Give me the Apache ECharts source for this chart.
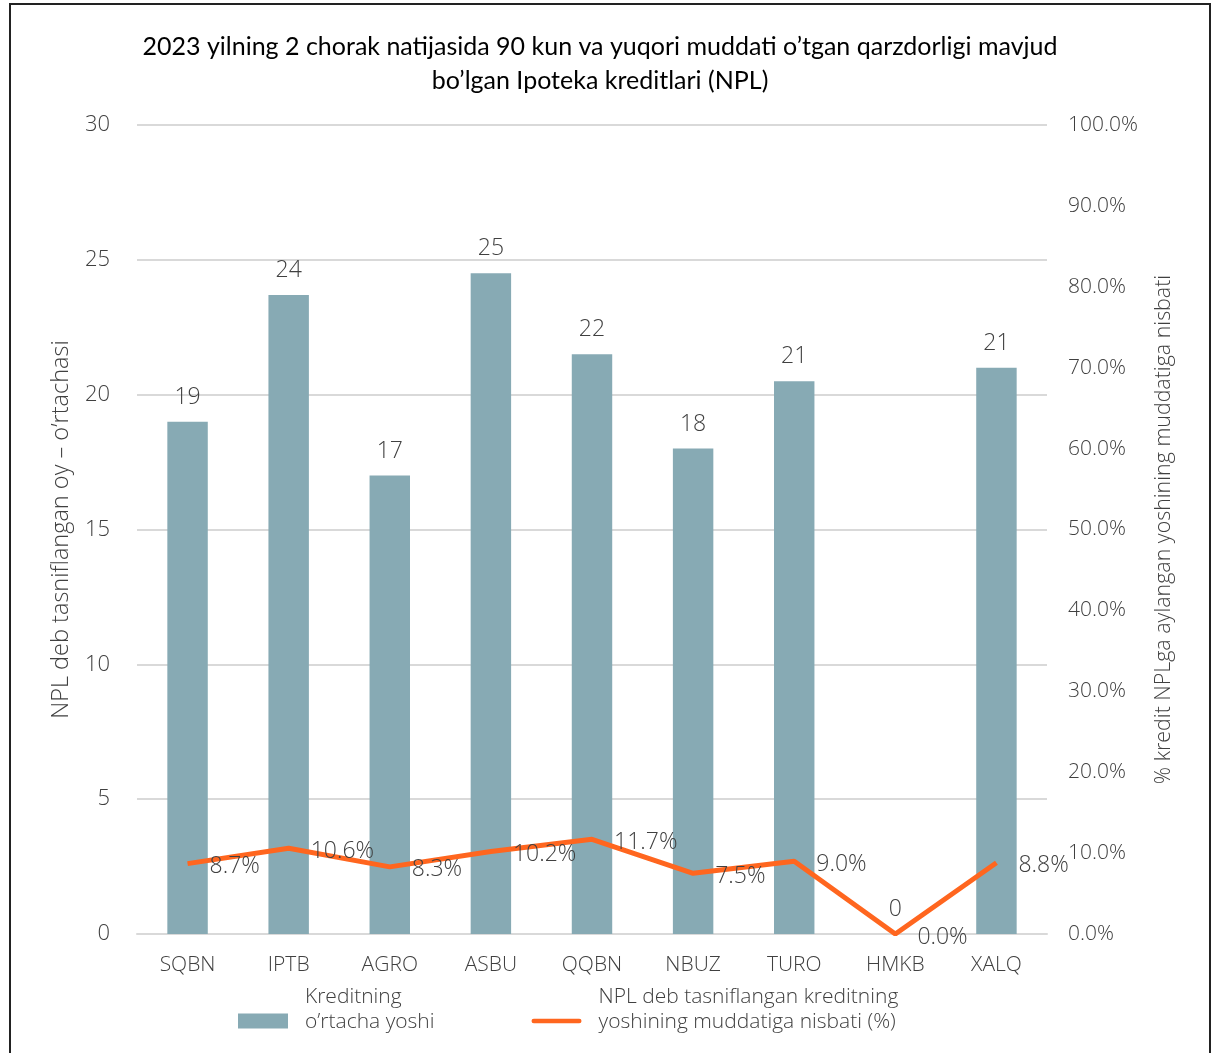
<!DOCTYPE html>
<html>
<head>
<meta charset="utf-8">
<script src="https://cdn.jsdelivr.net/npm/echarts@6/dist/echarts.min.js"></script>
<style>
html,body{margin:0;padding:0;background:#fff;}
#frame{position:absolute;left:9px;top:3px;width:1202px;height:1060px;border:2px solid #222;box-sizing:border-box;}
#chart{position:absolute;left:0;top:0;width:1217px;height:1053px;}
</style>
</head>
<body>
<div id="chart"></div>
<div id="frame"></div>
<script>
const categories = ['SQBN','IPTB','AGRO','ASBU','QQBN','NBUZ','TURO','HMKB','XALQ'];
const avgAge = [19.0, 23.7, 17.0, 24.5, 21.5, 18.0, 20.5, 0, 21.0];
const nplRatio = [8.7, 10.6, 8.3, 10.2, 11.7, 7.5, 9.0, 0.0, 8.8];
const leftTicks = {min: 0, max: 30, interval: 5};
const rightTicks = {min: 0, max: 100, interval: 10};
const titleText = '2023 yilning 2 chorak natijasida 90 kun va yuqori muddati o’tgan qarzdorligi mavjud\nbo’lgan Ipoteka kreditlari (NPL)';
const barName = 'Kreditning\no’rtacha yoshi';
const lineName = 'NPL deb tasniflangan kreditning\nyoshining muddatiga nisbati (%)';
const leftAxisName = 'NPL deb tasniflangan oy – o’rtachasi';
const rightAxisName = '% kredit NPLga aylangan yoshining muddatiga nisbati';

const FONT = '"Open Sans", "Noto Sans", sans-serif';
const chart = echarts.init(document.getElementById('chart'), null, {renderer: 'canvas'});
chart.setOption({
  backgroundColor: '#fff',
  animation: false,
  graphic: [{
    type: 'text',
    x: 600,
    y: 30,
    style: {
      text: titleText,
      align: 'center',
      verticalAlign: 'top',
      fontFamily: 'Lato, sans-serif', fontSize: 25, fontWeight: 'normal', fill: '#000', lineHeight: 34
    }
  }],
  grid: {left: 137, right: 170, top: 125, bottom: 119},
  legend: {
    top: 980,
    left: 233,
    itemGap: 97,
    itemWidth: 50,
    itemHeight: 15,
    data: [
      {name: barName, icon: 'rect'},
      {name: lineName, icon: 'path://M2.5,0 H52.5 A2.5,2.5 0 0 1 52.5,5 H2.5 A2.5,2.5 0 0 1 2.5,0 Z', itemStyle: {color: '#ff661f'}}
    ],
    formatter: name => name + '\n{sp| }',
    textStyle: {fontFamily: FONT, fontWeight: 300, fontSize: 21, color: '#404040', lineHeight: 25, padding: [0, 0, 0, 12],
      rich: {sp: {fontSize: 2, lineHeight: 22}}}
  },
  xAxis: {
    type: 'category',
    data: categories,
    axisLine: {lineStyle: {color: '#d9d9d9', width: 2}},
    axisTick: {show: false},
    axisLabel: {fontFamily: FONT, fontWeight: 300, fontSize: 21, color: '#404040', margin: 21}
  },
  yAxis: [{
    type: 'value',
    min: leftTicks.min, max: leftTicks.max, interval: leftTicks.interval,
    name: leftAxisName,
    nameLocation: 'middle',
    nameGap: 64,
    nameTextStyle: {fontFamily: FONT, fontWeight: 300, fontSize: 23.5, color: '#404040'},
    axisLine: {show: false},
    axisTick: {show: false},
    splitLine: {lineStyle: {color: '#d9d9d9', width: 2}},
    axisLabel: {fontFamily: FONT, fontWeight: 300, fontSize: 22, color: '#404040', margin: 27}
  }, {
    type: 'value',
    min: rightTicks.min, max: rightTicks.max, interval: rightTicks.interval,
    position: 'right',
    name: rightAxisName,
    nameLocation: 'middle',
    nameGap: 106,
    nameRotate: 90,
    nameTextStyle: {fontFamily: FONT, fontWeight: 300, fontSize: 21.4, color: '#404040'},
    axisLine: {show: false},
    axisTick: {show: false},
    splitLine: {show: false},
    axisLabel: {fontFamily: FONT, fontWeight: 300, fontSize: 21, color: '#404040', margin: 21,
      formatter: v => v.toFixed(1) + '%'}
  }],
  series: [{
    name: barName,
    type: 'bar',
    data: avgAge,
    yAxisIndex: 0,
    barWidth: '40%',
    itemStyle: {color: '#87aab4'},
    label: {show: true, position: 'top', distance: 13, fontFamily: FONT, fontWeight: 300, fontSize: 23, color: '#404040',
      formatter: p => Math.round(p.value)}
  }, {
    name: lineName,
    type: 'line',
    data: nplRatio,
    yAxisIndex: 1,
    symbol: 'circle',
    symbolSize: 0.1,
    showSymbol: true,
    lineStyle: {color: '#ff661f', width: 5},
    itemStyle: {color: '#ff661f'},
    label: {show: true, position: 'right', distance: 22, offset: [0, 3], fontFamily: FONT, fontWeight: 300, fontSize: 23, color: '#404040',
      formatter: p => p.value.toFixed(1) + '%'}
  }]
});
</script>
</body>
</html>
